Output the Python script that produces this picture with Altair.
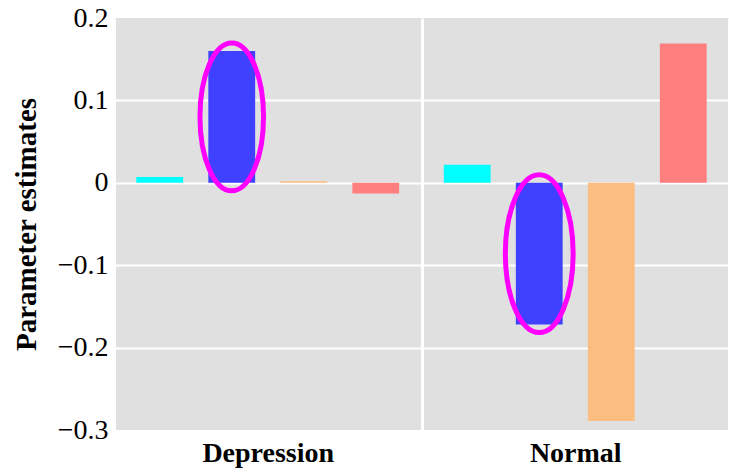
import altair as alt
import pandas as pd

groups = ["Depression", "Normal"]
params = ["P1", "P2", "P3", "P4"]
depression_vals = [0.007, 0.160, 0.002, -0.013]
normal_vals = [0.022, -0.172, -0.289, 0.169]
colors = ["#00FFFF", "#4040FF", "#FCBE80", "#FF7F7F"]
highlight_param = "P2"
y_ticks = [-0.3, -0.2, -0.1, 0, 0.1, 0.2]

rows = []
for g, vals in zip(groups, [depression_vals, normal_vals]):
    for p, v in zip(params, vals):
        rows.append({"group": g, "param": p, "value": v})
df = pd.DataFrame(rows)

SERIF = "Liberation Serif"

x_enc = alt.X(
    "group:N", sort=groups,
    scale=alt.Scale(paddingInner=0, paddingOuter=0),
    axis=alt.Axis(title=None, labelFont=SERIF, labelFontSize=28, labelFontWeight="bold",
                  labelColor="black", labelPadding=9, domain=False, ticks=False,
                  grid=True, gridColor="white", gridWidth=3, tickBand="extent",
                  labelAngle=0, labelAlign="center"),
)
xoff = alt.XOffset("param:N", sort=params,
                   scale=alt.Scale(paddingInner=0.35, paddingOuter=0.31))
y_scale = alt.Scale(domain=[-0.3, 0.2], nice=False, zero=False)
y_axis = alt.Axis(
    values=y_ticks, title="Parameter estimates", titleFont=SERIF, titleFontSize=29,
    titleFontWeight="bold", titleColor="black", titlePadding=16,
    labelFont=SERIF, labelFontSize=28, labelColor="black", labelPadding=6,
    labelExpr="datum.value == 0 ? '0' : format(datum.value, '.1f')",
    domain=False, ticks=False, grid=True, gridWidth=2,
    gridColor={"condition": {"test": "datum.value > 0.15 || datum.value < -0.25",
                             "value": "transparent"}, "value": "white"},
)

bars = alt.Chart(df).mark_bar().encode(
    x=x_enc,
    xOffset=xoff,
    y=alt.Y("value:Q", scale=y_scale, axis=y_axis),
    y2=alt.datum(0),
    color=alt.Color("param:N", scale=alt.Scale(domain=params, range=colors), legend=None),
)

ellipse_path = "M -0.43 0 A 0.43 1 0 1 0 0.43 0 A 0.43 1 0 1 0 -0.43 0 Z"
ellipses = alt.Chart(df).transform_filter(
    alt.datum.param == highlight_param
).transform_calculate(
    mid="datum.value / 2",
    esize="pow(abs(datum.value) * 824 + 16, 2)",
).mark_point(
    shape=ellipse_path, filled=False, stroke="#FF00FF", strokeWidth=5, opacity=1
).encode(
    x=x_enc,
    xOffset=xoff,
    y=alt.Y("mid:Q", scale=y_scale),
    size=alt.Size("esize:Q", scale=None, legend=None),
)

chart = alt.layer(bars, ellipses).properties(
    width=615, height=412,
    autosize=alt.AutoSizeParams(type="none"),
    padding={"left": 114, "top": 18, "right": 0, "bottom": 43},
    background="white",
).configure_view(fill="#E0E0E0", stroke=None)

chart.save("out.html", embed_options={"renderer": "svg", "actions": False})
